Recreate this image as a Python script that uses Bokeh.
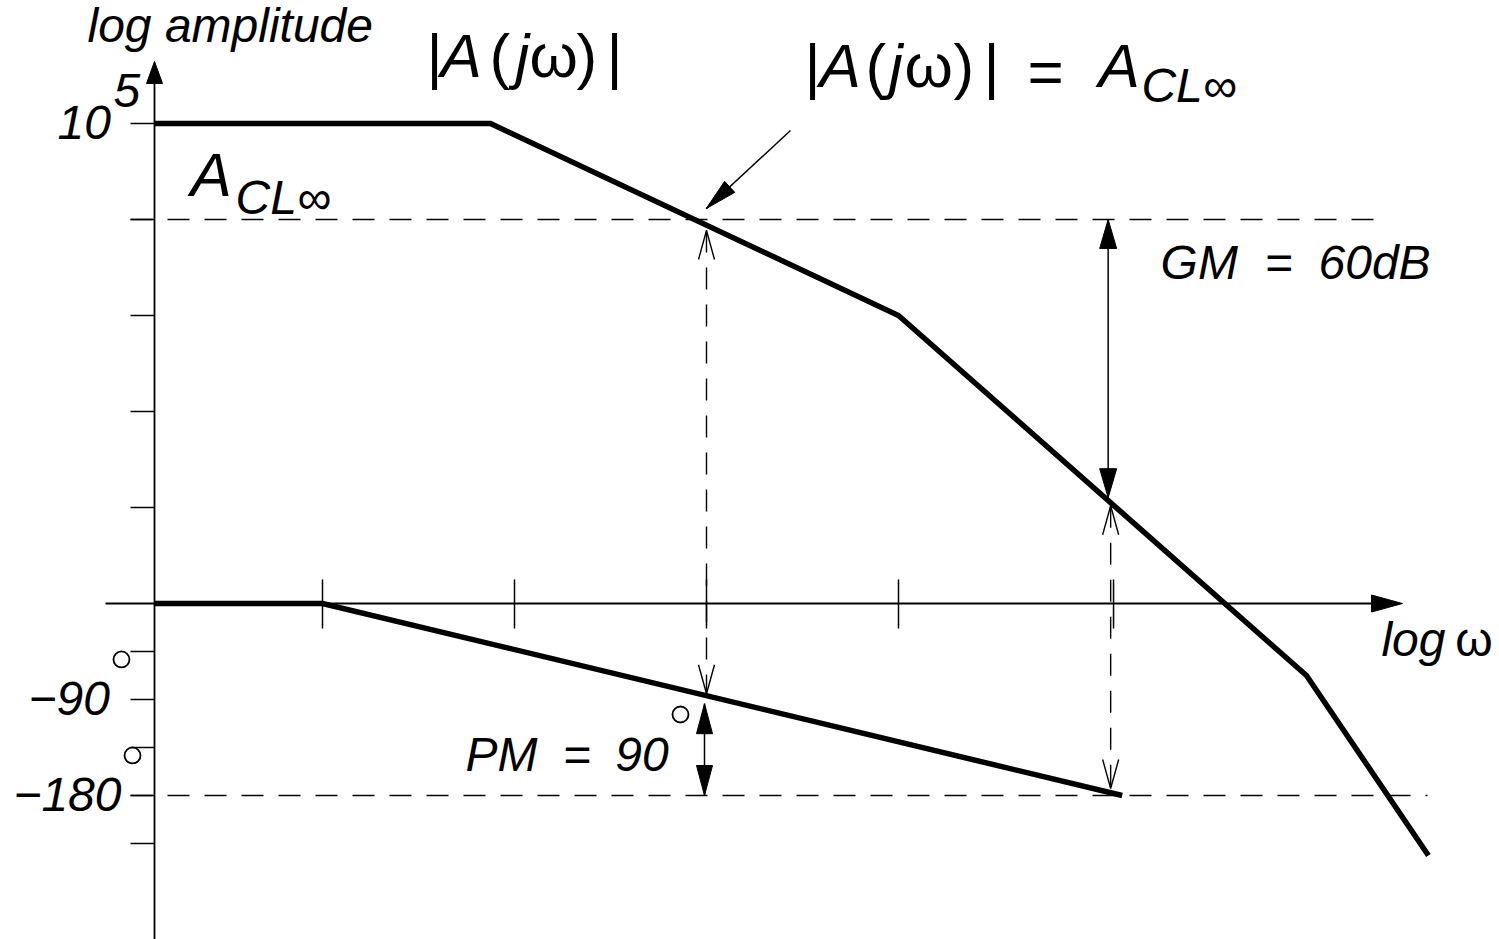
import numpy as np
from bokeh.plotting import figure
from bokeh.models import Range1d
from bokeh.core.properties import value
from bokeh.embed import file_html
from bokeh.resources import INLINE

# Asymptotic Bode sketch of |A(jw)| and its phase.
# x: log w (sketch units), y: log10 |A| (decades); phase drawn as deg/90.
amp_logw = [0.0, 3.5, 7.75, 12.0, 13.27]
amp_logA = [5.0, 5.0, 3.0, -0.75, -2.625]

phase_logw = [0.0, 1.75, 10.08]
phase_deg = [0.0, 0.0, -180.0]

acl_level = 4.0       # log10 A_CL_inf
w_pm = 5.75           # where |A| meets A_CL_inf
w_180 = 9.96          # where the phase reaches -180 deg

x_ticks = [1.75, 3.75, 5.75, 7.75, 9.99]
amp_ticks = [1, 2, 3, 4, 5]
phase_ticks = [-45, -90, -135, -180, -225]

PX = 96.0                     # screen pixels per sketch unit (both axes)
W, H = 1499, 939
ORG_X, ORG_Y = 154, 603       # where the axes cross on the canvas

FONT = value("Liberation Sans")
INK = "black"

p = figure(width=W, height=H,
           x_range=Range1d(-ORG_X / PX, (W - ORG_X) / PX),
           y_range=Range1d(-(H - ORG_Y) / PX, ORG_Y / PX),
           output_backend="svg", toolbar_location=None,
           x_axis_type=None, y_axis_type=None, min_border=0)
p.outline_line_color = None
p.background_fill_color = "white"
p.border_fill_color = "white"


def ph(deg):
    return np.asarray(deg, dtype=float) / 90.0


def head(tip, direction, length, half):
    tx, ty = tip
    dx, dy = direction
    n = np.hypot(dx, dy)
    dx, dy = dx / n, dy / n
    L, h = length / PX, half / PX
    bx, by = tx - dx * L, ty - dy * L
    return [bx - dy * h, tx, bx + dy * h], [by + dx * h, ty, by - dx * h]


def filled_head(tip, direction, length=28, half=8.5):
    xs, ys = head(tip, direction, length, half)
    p.patch(xs, ys, fill_color=INK, line_color=INK, line_width=1)


def open_head(tip, direction, length=29, half=8):
    xs, ys = head(tip, direction, length, half)
    p.line(xs, ys, line_color=INK, line_width=1.4)


def put(x, y, s, size, italic=True):
    # y is the baseline; lift by the renderer's baseline offset
    yb = y + 0.37 * size / PX
    p.text(x=[x], y=[yb], text=[s], text_font=FONT,
           text_font_size=f"{size}px",
           text_font_style="italic" if italic else "normal",
           text_baseline="alphabetic", text_align="left", text_color=INK)


y_bot = p.y_range.start
tick = 24 / PX

# axes
y_axis_tip = 5.646
x_axis_tip = 13.0
p.line([0, 0], [y_bot, y_axis_tip - 0.1], line_color=INK, line_width=1.8)
filled_head((0, y_axis_tip), (0, 1), length=22, half=8)
p.line([-0.51, x_axis_tip - 0.1], [0, 0], line_color=INK, line_width=1.8)
filled_head((x_axis_tip, 0), (1, 0), length=31, half=8.5)

# ticks
yt = list(amp_ticks) + list(ph(phase_ticks))
p.segment(x0=[-tick] * len(yt), y0=yt, x1=[0] * len(yt), y1=yt,
          line_color=INK, line_width=1.5)
p.segment(x0=x_ticks, y0=[0.25] * len(x_ticks), x1=x_ticks,
          y1=[-0.26] * len(x_ticks), line_color=INK, line_width=1.5)

# reference levels
p.line([-tick, 12.82], [acl_level, acl_level], line_color=INK,
       line_width=1.5, line_dash="22 15")
p.line([-tick, 13.26], [ph(-180), ph(-180)], line_color=INK,
       line_width=1.5, line_dash="22 15")

# the two asymptotic curves
p.line(amp_logw, amp_logA, line_color=INK, line_width=5.5, line_join="miter")
p.line(phase_logw, ph(phase_deg), line_color=INK, line_width=5.5,
       line_join="miter")

amp_at_180 = float(np.interp(w_180, amp_logw, amp_logA))
ph_at_pm = float(ph(np.interp(w_pm, phase_logw, phase_deg)))

# phase margin: dashed drop from the A_CL_inf crossing to the phase curve
pm_up = acl_level - 11 / PX
pm_dn = ph_at_pm + 2 / PX
p.line([w_pm, w_pm], [pm_up, pm_dn], line_color=INK, line_width=1.4,
       line_dash="22 15")
open_head((w_pm, pm_up), (0, 1))
open_head((w_pm, pm_dn), (0, -1))

x_pm = w_pm - 2 / PX
pm_top = ph_at_pm - 8 / PX
pm_bot = float(ph(-180))
p.line([x_pm, x_pm], [pm_top, pm_bot], line_color=INK, line_width=1.5)
filled_head((x_pm, pm_top), (0, 1), length=30, half=8)
filled_head((x_pm, pm_bot), (0, -1), length=30, half=8)

# gain margin: dashed drop from |A| at -180 deg crossing to the -180 level
gm_up = amp_at_180 - 3 / PX
gm_dn = float(ph(-180)) + 7 / PX
p.line([w_180, w_180], [gm_up, gm_dn], line_color=INK, line_width=1.4,
       line_dash="22 15")
open_head((w_180, gm_up), (0, 1))
open_head((w_180, gm_dn), (0, -1))

x_gm = w_180 - 2.5 / PX
gm_bot = amp_at_180 + 5 / PX
p.line([x_gm, x_gm], [acl_level, gm_bot], line_color=INK, line_width=1.5)
filled_head((x_gm, acl_level), (0, 1), length=29, half=8.5)
filled_head((x_gm, gm_bot), (0, -1), length=29, half=8.5)

# pointer to the |A| = A_CL_inf crossing
w_cross = float(np.interp(-acl_level, -np.asarray(amp_logA[1:3]),
                          amp_logw[1:3]))
tail = np.array([6.625, 4.927])
cross = np.array([w_cross, acl_level])
d = tail - cross
d = d / np.hypot(*d)
tip = cross + d * 16 / PX
p.line([tail[0], tip[0]], [tail[1], tip[1]], line_color=INK, line_width=1.4)
filled_head(tuple(tip), tuple(-d), length=32, half=7.5)

# labels
put(-0.698, 5.833, "log amplitude", 48)
put(-1.01, 4.823, "10", 48)
put(-0.427, 5.156, "5", 48)
put(0.375, 4.229, "A", 62)
put(0.844, 4.04, "CL\u221e", 48)

# |A(jw)|
for xx, s, it in [(2.833, "|", False), (2.979, "A", True), (3.49, "(", False),
                  (3.76, "j", True), (3.906, "\u03c9", False),
                  (4.396, ")", False), (4.708, "|", False)]:
    put(xx, 5.469, s, 62, it)

# |A(jw)| = A_CL_inf
for xx, s, it in [(6.771, "|", False), (6.927, "A", True), (7.407, "(", False),
                  (7.65, "j", True), (7.813, "\u03c9", False),
                  (8.323, ")", False), (8.635, "|", False)]:
    put(xx, 5.365, s, 62, it)
put(9.094, 5.30, "=", 62, False)
put(9.833, 5.365, "A", 62)
put(10.28, 5.208, "CL\u221e", 48)

put(10.48, 3.365, "GM", 48)
put(11.57, 3.365, "=", 48, False)
put(12.125, 3.365, "60dB", 48)

put(3.24, -1.76, "PM", 48)
put(4.26, -1.76, "=", 48, False)
put(4.80, -1.76, "90", 48)

put(12.78, -0.5625, "log", 48)
put(13.55, -0.5625, "\u03c9", 48, False)

put(-1.3125, -1.177, "\u221290", 48)
put(-1.47, -2.177, "\u2212180", 48)

# degree marks
p.scatter(x=[5.479, -0.344, -0.229], y=[-1.156, -0.583, -1.583],
          marker="circle", size=16, fill_color=None, line_color=INK,
          line_width=1.8)

open("out.html", "w").write(file_html(p, INLINE))
